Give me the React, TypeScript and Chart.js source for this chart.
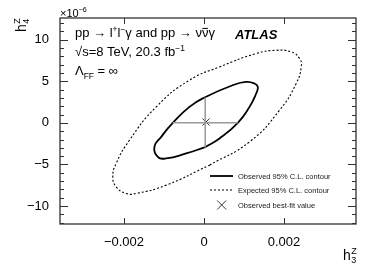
import React, { useEffect, useRef } from "react";
import { Chart, registerables } from "chart.js";

Chart.register(...registerables);

// ---- data (h3Z in units, h4Z in units of 1e-6) ----
const observedX = [0.0000125, 0.000388, 0.000845, 0.001138, 0.001305, 0.001345, 0.001263, 0.001055, 0.00072, 0.0000125, -0.000363, -0.00078, -0.00107, -0.00124, -0.001155, -0.000945, -0.000445, 0.0000125];
const observedY = [-2.95, -1.87, 0.0, 1.92, 3.53, 4.32, 4.73, 4.92, 4.53, 3.05, 1.92, 0.0, -1.68, -2.88, -4.08, -4.27, -3.67, -2.95];

const expectedX = [0.000138, 0.001138, 0.001888, 0.002305, 0.00243, 0.002388, 0.00218, 0.001805, 0.001305, 0.000388, -0.000363, -0.001195, -0.001863, -0.002195, -0.00228, -0.002195, -0.001945, -0.001695, -0.000945, 0.000138];
const expectedY = [-5.08, -2.28, 1.52, 4.73, 6.72, 7.73, 8.52, 8.72, 8.33, 6.72, 5.13, 1.92, -2.08, -4.87, -6.48, -7.68, -8.48, -8.48, -7.48, -5.08];

const bestFitX = [0.00005];
const bestFitY = [0.1];

const hIntervalX = [-0.00078, 0.000845];
const hIntervalY = [0.0, 0.0];
const vIntervalX = [0.00003, 0.00003];
const vIntervalY = [-2.95, 3.05];

const xTicks = [-0.002, 0, 0.002];
const yTicks = [-10, -5, 0, 5, 10];
const yMinorTicks = [-12, -11, -9, -8, -7, -6, -4, -3, -2, -1, 1, 2, 3, 4, 6, 7, 8, 9, 11, 12];

const seriesLabels = ["Observed 95% C.L. contour", "Expected 95% C.L. contour", "Observed best-fit value"];

const FONT = "'Liberation Sans', Arial, Helvetica, sans-serif";

type Seg = { t: string; mode?: "sup" | "sub" | "over" };

function drawRich(ctx: CanvasRenderingContext2D, segs: Seg[], x: number, y: number, size: number) {
  let cx = x;
  ctx.textBaseline = "alphabetic";
  ctx.textAlign = "left";
  for (const s of segs) {
    if (s.mode === "sup") {
      ctx.font = `${size * 0.65}px ${FONT}`;
      ctx.fillText(s.t, cx, y - size * 0.42);
      cx += ctx.measureText(s.t).width;
    } else if (s.mode === "sub") {
      ctx.font = `${size * 0.65}px ${FONT}`;
      ctx.fillText(s.t, cx, y + size * 0.28);
      cx += ctx.measureText(s.t).width;
    } else {
      ctx.font = `${size}px ${FONT}`;
      ctx.fillText(s.t, cx, y);
      const w = ctx.measureText(s.t).width;
      if (s.mode === "over") {
        ctx.save();
        ctx.lineWidth = 1;
        ctx.strokeStyle = ctx.fillStyle as string;
        ctx.beginPath();
        ctx.moveTo(cx + 0.5, y - size * 0.66);
        ctx.lineTo(cx + w - 0.5, y - size * 0.66);
        ctx.stroke();
        ctx.restore();
      }
      cx += w;
    }
  }
  return cx;
}

function drawH(ctx: CanvasRenderingContext2D, x: number, y: number, sub: string) {
  ctx.font = `14px ${FONT}`;
  ctx.fillText("h", x, y);
  const w = ctx.measureText("h").width;
  ctx.font = `9px ${FONT}`;
  ctx.fillText("Z", x + w + 0.5, y - 6.5);
  ctx.fillText(sub, x + w + 0.5, y + 3);
}

const decorPlugin = {
  id: "decor",
  afterDatasetsDraw(chart: any) {
    const ctx: CanvasRenderingContext2D = chart.ctx;
    const { left, right, top, bottom } = chart.chartArea;
    const xs = chart.scales.x;
    const ys = chart.scales.y;
    ctx.save();
    // frame
    ctx.strokeStyle = "#333";
    ctx.lineWidth = 1.3;
    ctx.strokeRect(left, top, right - left, bottom - top);
    // ticks
    ctx.lineWidth = 1;
    ctx.beginPath();
    for (const v of yTicks) {
      const p = Math.round(ys.getPixelForValue(v)) + 0.5;
      ctx.moveTo(left, p); ctx.lineTo(left + 8, p);
      ctx.moveTo(right, p); ctx.lineTo(right - 8, p);
    }
    for (const v of yMinorTicks) {
      const p = Math.round(ys.getPixelForValue(v)) + 0.5;
      ctx.moveTo(left, p); ctx.lineTo(left + 4, p);
      ctx.moveTo(right, p); ctx.lineTo(right - 4, p);
    }
    for (const v of xTicks) {
      const p = Math.round(xs.getPixelForValue(v)) + 0.5;
      ctx.moveTo(p, bottom); ctx.lineTo(p, bottom - 6);
      ctx.moveTo(p, top); ctx.lineTo(p, top + 6);
    }
    ctx.stroke();

    // texts
    ctx.fillStyle = "#000";
    drawRich(ctx, [
      { t: "pp \u2192 l" }, { t: "+", mode: "sup" }, { t: "l" }, { t: "\u2212", mode: "sup" },
      { t: "\u03b3 and pp \u2192 \u03bd" }, { t: "\u03bd", mode: "over" }, { t: "\u03b3" },
    ], 75, 37, 13);
    drawRich(ctx, [{ t: "\u221as=8 TeV, 20.3 fb" }, { t: "\u22121", mode: "sup" }], 75, 56, 13);
    drawRich(ctx, [{ t: "\u039b" }, { t: "FF", mode: "sub" }, { t: " = \u221e" }], 75, 75, 13);
    ctx.font = `italic bold 13px ${FONT}`;
    ctx.fillText("ATLAS", 235, 38.5);
    drawRich(ctx, [{ t: "\u00d710" }, { t: "\u22126", mode: "sup" }], 60, 17, 11);

    // axis titles
    drawH(ctx, 343, 260, "3");
    ctx.save();
    ctx.translate(26, 32);
    ctx.rotate(-Math.PI / 2);
    drawH(ctx, 0, 0, "4");
    ctx.restore();

    // legend
    const lx0 = 210, lx1 = 233, tx = 238;
    const rows = [176, 190, 205];
    ctx.strokeStyle = "#000";
    ctx.lineWidth = 1.8;
    ctx.setLineDash([]);
    ctx.beginPath(); ctx.moveTo(lx0, rows[0]); ctx.lineTo(lx1, rows[0]); ctx.stroke();
    ctx.lineWidth = 1.1;
    ctx.setLineDash([2, 2]);
    ctx.beginPath(); ctx.moveTo(lx0, rows[1]); ctx.lineTo(lx1, rows[1]); ctx.stroke();
    ctx.setLineDash([]);
    ctx.lineWidth = 1;
    ctx.strokeStyle = "#333";
    const mx = 221.7, my = rows[2];
    ctx.beginPath();
    ctx.moveTo(mx - 4.5, my - 4.5); ctx.lineTo(mx + 4.5, my + 4.5);
    ctx.moveTo(mx - 4.5, my + 4.5); ctx.lineTo(mx + 4.5, my - 4.5);
    ctx.stroke();
    ctx.fillStyle = "#222";
    ctx.font = `7.5px ${FONT}`;
    ctx.textBaseline = "middle";
    rows.forEach((r, i) => ctx.fillText(seriesLabels[i], tx, r + 0.5));
    ctx.restore();
  },
};

function toPts(xs: number[], ys: number[]) {
  return xs.map((x, i) => ({ x, y: ys[i] }));
}

function fmtX(v: number) {
  if (Math.abs(v) < 1e-12) return "0";
  return (v < 0 ? "\u2212" : "") + Math.abs(v).toFixed(3);
}
function fmtY(v: number) {
  return v < 0 ? "\u2212" + Math.abs(v) : String(v);
}

export default function App() {
  const ref = useRef<HTMLCanvasElement>(null);
  useEffect(() => {
    if (!ref.current) return;
    const chart = new Chart(ref.current, {
      type: "scatter",
      data: {
        datasets: [
          { label: "hInterval", data: toPts(hIntervalX, hIntervalY), showLine: true, borderColor: "#999", borderWidth: 1.5, pointRadius: 0 },
          { label: "vInterval", data: toPts(vIntervalX, vIntervalY), showLine: true, borderColor: "#999", borderWidth: 1.5, pointRadius: 0 },
          { label: seriesLabels[0], data: toPts(observedX, observedY), showLine: true, tension: 0.5, borderColor: "#000", borderWidth: 1.8, pointRadius: 0 },
          { label: seriesLabels[1], data: toPts(expectedX, expectedY), showLine: true, tension: 0.5, borderColor: "#000", borderWidth: 1.1, borderDash: [2, 2], pointRadius: 0 },
          { label: seriesLabels[2], data: toPts(bestFitX, bestFitY), pointStyle: "crossRot", pointRadius: 5, borderColor: "#333", borderWidth: 1, backgroundColor: "#333" },
        ] as any,
      },
      options: {
        animation: false,
        responsive: false,
        devicePixelRatio: 1,
        layout: { padding: { top: 18, right: 18, left: 0, bottom: 0 } },
        plugins: { legend: { display: false }, tooltip: { enabled: false } },
        scales: {
          x: {
            type: "linear",
            min: -0.0036,
            max: 0.0038,
            afterBuildTicks: (s: any) => { s.ticks = xTicks.map((v) => ({ value: v })); },
            afterFit: (s: any) => { s.height = 44; },
            ticks: { callback: (v: any) => fmtX(Number(v)), font: { size: 13, family: FONT }, color: "#000", padding: 3, maxRotation: 0, autoSkip: false },
            grid: { display: false },
            border: { display: false },
          },
          y: {
            type: "linear",
            min: -12.15,
            max: 12.6,
            afterBuildTicks: (s: any) => { s.ticks = yTicks.map((v) => ({ value: v })); },
            afterFit: (s: any) => { s.width = 60; },
            ticks: { callback: (v: any) => fmtY(Number(v)), font: { size: 13, family: FONT }, color: "#000", padding: 3, autoSkip: false },
            grid: { display: false },
            border: { display: false },
          },
        },
      } as any,
      plugins: [decorPlugin],
    });
    return () => chart.destroy();
  }, []);
  return (
    <div style={{ position: "fixed", left: 0, top: 0, width: 374, height: 268, background: "#fff" }}>
      <canvas ref={ref} width={374} height={268} style={{ width: 374, height: 268, display: "block" }} />
    </div>
  );
}
